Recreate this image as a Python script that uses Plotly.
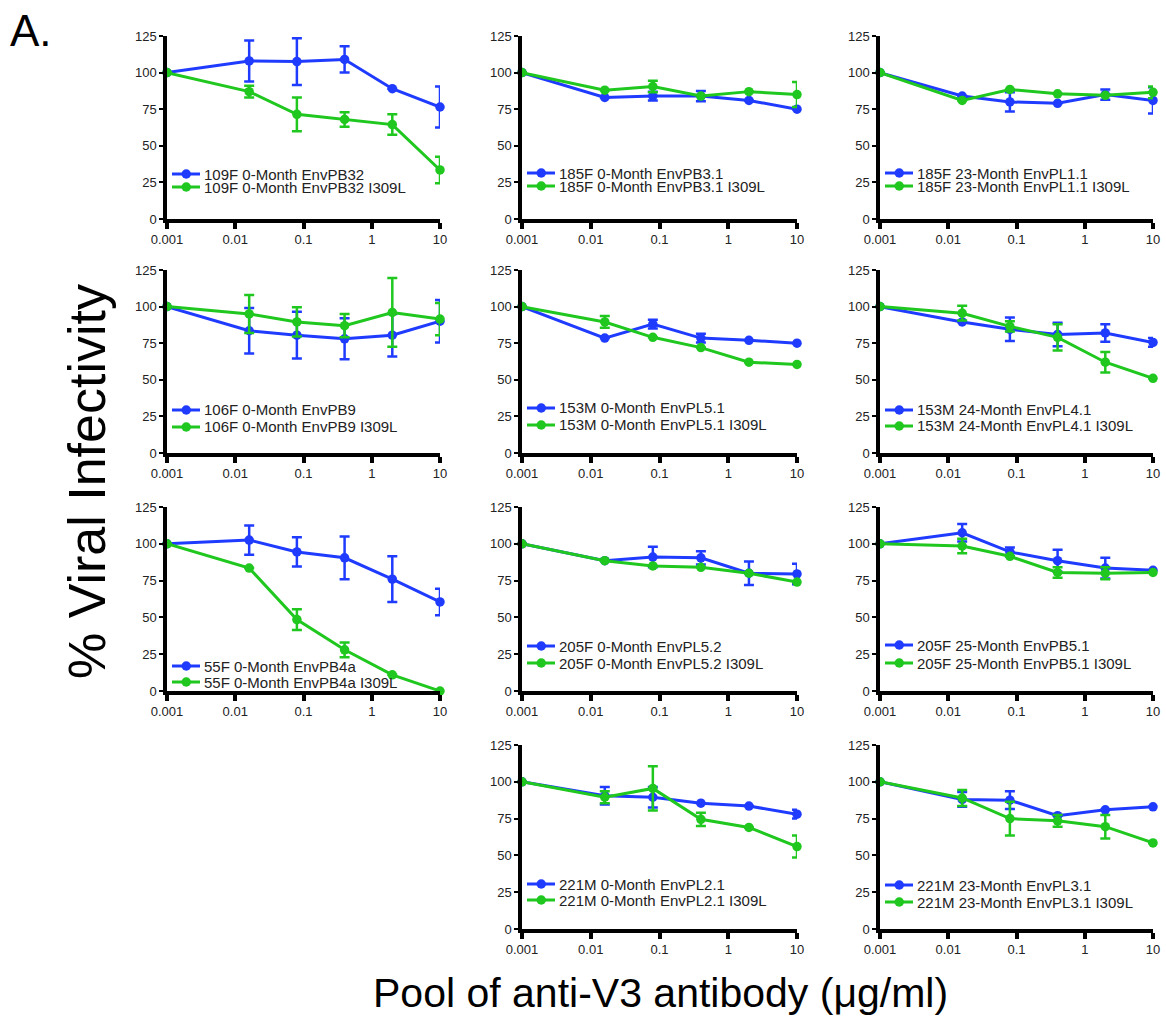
import plotly.graph_objects as go

# Antibody concentrations (ug/ml); 0.001 stands in for the no-antibody control
conc = [0.001, 0.016, 0.08, 0.4, 2, 10]
x_tick_vals = [0.001, 0.01, 0.1, 1, 10]
x_tick_text = ["0.001", "0.01", "0.1", "1", "10"]
y_tick_vals = [0, 25, 50, 75, 100, 125]

# Panel names (wild-type Env); the mutant carries the I309L suffix
env_names = [
    "109F 0-Month EnvPB32",
    "185F 0-Month EnvPB3.1",
    "185F 23-Month EnvPL1.1",
    "106F 0-Month EnvPB9",
    "153M 0-Month EnvPL5.1",
    "153M 24-Month EnvPL4.1",
    "55F 0-Month EnvPB4a",
    "205F 0-Month EnvPL5.2",
    "205F 25-Month EnvPB5.1",
    "221M 0-Month EnvPL2.1",
    "221M 23-Month EnvPL3.1",
]

# % infectivity, wild type
wt_mean = [
    [100, 108, 107.5, 109, 89, 76.5],
    [100, 83, 84, 84, 81, 75],
    [100, 84, 80, 79, 85, 81],
    [100, 83.5, 80.5, 78, 80.5, 90],
    [100, 78.5, 88, 78.5, 77, 75],
    [100, 89.5, 84.5, 81, 82, 75.5],
    [100, 102.5, 94.5, 90.5, 76, 60.5],
    [100, 88.5, 91, 90.5, 80, 79.5],
    [100, 107.5, 94.5, 88.5, 83.5, 82],
    [100, 90.5, 89.5, 85.5, 83.5, 78],
    [100, 88, 87.5, 77, 81, 83],
]
wt_err = [
    [None, 14, 16, 9, None, 14],
    [None, None, 3, 3.5, None, None],
    [None, None, 6.5, None, 3.5, 9],
    [None, 15.5, 16, 14, 14.5, 14.5],
    [None, None, 3, 3, None, None],
    [None, None, 8, 8, 6, 3],
    [None, 10, 10, 14.5, 15.5, 9],
    [None, None, 7, 4.5, 8, 7],
    [None, 6, 3, 7.5, 7, None],
    [None, 6, 7, None, None, 3],
    [None, 5, 6, None, None, None],
]

# % infectivity, I309L mutant
mut_mean = [
    [100, 87, 71.5, 68, 64.5, 33.5],
    [100, 88, 90.5, 84, 87, 85],
    [100, 81, 88.5, 85.5, 84.5, 86.5],
    [100, 95, 89.5, 87, 96, 91.5],
    [100, 89.5, 79, 72, 62, 60.5],
    [100, 95.5, 86.5, 79, 62, 51],
    [100, 83.5, 48.5, 28, 11, 0],
    [100, 88.5, 85, 84, 80, 74],
    [100, 98.5, 91.5, 80.5, 80, 80.5],
    [100, 89.5, 95.5, 74.5, 69, 56],
    [100, 89, 75, 73.5, 69.5, 58.5],
]
mut_err = [
    [None, 4, 11.5, 5, 7, 9],
    [None, None, 4, None, None, 8.5],
    [None, None, None, None, None, 4],
    [None, 13, 10, 8, 23.5, 11],
    [None, 4, None, None, None, None],
    [None, 5, 3.5, 9, 7, None],
    [None, None, 7, 5, None, None],
    [None, None, None, None, None, None],
    [None, 5, None, 3.5, 4, None],
    [None, 4, 15, 4.5, None, 7.5],
    [None, 5.5, 11.5, 4, 8, None],
]

# grid slot (row, col) of each panel; bottom-left slot stays empty
slots = [(0, 0), (0, 1), (0, 2), (1, 0), (1, 1), (1, 2),
         (2, 0), (2, 1), (2, 2), (3, 1), (3, 2)]

W, H = 1166, 1016
BLUE = "#1F3BFF"
GREEN = "#1FC71F"
FONT = "Arial, Liberation Sans, sans-serif"

# plot-area edges in pixels
col_px = [(167, 440), (522, 797), (880, 1153)]
row_px = [(36, 219), (270, 453), (507, 691), (745, 929)]
# legend row offsets (px above the x axis) for each panel
legend_rows = [(45, 32), (46, 33), (46, 33), (43, 26), (45, 28), (43, 27),
               (25, 9), (45, 28), (46, 28), (45, 29), (44, 27)]

fig = go.Figure()
shapes, annotations = [], []


def px_x(p):
    return p / W


def px_y(p):
    return 1 - p / H


for i, (r, c) in enumerate(slots):
    n = i + 1
    xa = "x" if n == 1 else f"x{n}"
    ya = "y" if n == 1 else f"y{n}"
    for mean, err, color, name in (
        (wt_mean[i], wt_err[i], BLUE, env_names[i]),
        (mut_mean[i], mut_err[i], GREEN, env_names[i] + " I309L"),
    ):
        fig.add_trace(go.Scatter(
            x=conc, y=mean, name=name, mode="lines+markers",
            xaxis=xa, yaxis=ya, cliponaxis=False, showlegend=False,
            line=dict(color=color, width=3),
            marker=dict(color=color, size=9.5),
            error_y=dict(type="data", array=err, symmetric=True,
                         color=color, thickness=2.5, width=5),
        ))

    x0, x1 = col_px[c]
    y0, y1 = row_px[r]
    axis_common = dict(showline=True, linecolor="black", linewidth=3.5,
                       showgrid=False, zeroline=False, ticks="outside",
                       tickcolor="black", automargin=False,
                       tickfont=dict(family=FONT, size=13, color="#222"))
    fig.layout[("xaxis" if n == 1 else f"xaxis{n}")] = dict(
        type="log", range=[-3, 1], domain=[px_x(x0), px_x(x1)], anchor=ya,
        tickvals=x_tick_vals, ticktext=x_tick_text, ticklen=6, tickwidth=3.5,
        **axis_common)
    fig.layout[("yaxis" if n == 1 else f"yaxis{n}")] = dict(
        range=[0, 125], domain=[px_y(y1), px_y(y0)], anchor=xa,
        tickvals=y_tick_vals, ticklen=4, tickwidth=2, **axis_common)

    # per-panel key: line + dot + label
    for k, (color, label) in enumerate(((BLUE, env_names[i]),
                                        (GREEN, env_names[i] + " I309L"))):
        ly = y1 - legend_rows[i][k]
        shapes.append(dict(type="line", xref="paper", yref="paper",
                           x0=px_x(x0 + 5), x1=px_x(x0 + 33),
                           y0=px_y(ly), y1=px_y(ly),
                           line=dict(color=color, width=3)))
        shapes.append(dict(type="circle", xref="paper", yref="paper",
                           x0=px_x(x0 + 14.5), x1=px_x(x0 + 24),
                           y0=px_y(ly - 4.75), y1=px_y(ly + 4.75),
                           fillcolor=color, line=dict(color=color, width=0)))
        annotations.append(dict(text=label, xref="paper", yref="paper",
                                x=px_x(x0 + 35), y=px_y(ly), xanchor="left",
                                yanchor="middle", showarrow=False,
                                font=dict(family=FONT, size=15, color="#222")))

annotations.append(dict(text="% Viral Infectivity", xref="paper", yref="paper",
                        x=px_x(87), y=px_y(482), textangle=-90,
                        xanchor="center", yanchor="middle", showarrow=False,
                        font=dict(family=FONT, size=52, color="black")))
annotations.append(dict(text="Pool of anti-V3 antibody (μg/ml)", xref="paper",
                        yref="paper", x=px_x(660), y=px_y(993),
                        xanchor="center", yanchor="middle", showarrow=False,
                        font=dict(family=FONT, size=41, color="black")))
annotations.append(dict(text="A.", xref="paper", yref="paper",
                        x=px_x(8), y=px_y(31), xanchor="left",
                        yanchor="middle", showarrow=False,
                        font=dict(family=FONT, size=44, color="black")))

fig.update_layout(width=W, height=H, margin=dict(l=0, r=0, t=0, b=0),
                  paper_bgcolor="white", plot_bgcolor="white",
                  shapes=shapes, annotations=annotations, showlegend=False)

fig.write_html("out.html")
